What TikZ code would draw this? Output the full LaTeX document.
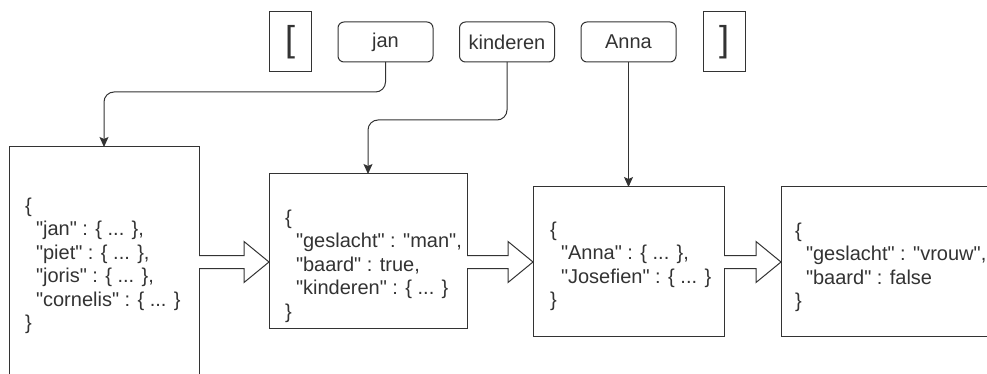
\documentclass[tikz,border=0pt]{standalone}
\usepackage{fontspec}
\setmainfont{Liberation Sans}[Ligatures=TeXOff]
\usetikzlibrary{arrows.meta,calc}
\definecolor{edge}{HTML}{333333}
\definecolor{ink}{HTML}{333333}
\begin{document}
\begin{tikzpicture}[x=1pt,y=-1pt,
  every node/.style={inner sep=0pt,outer sep=0pt,text=ink},
  bracketbox/.style={draw=edge,line width=1pt,minimum width=42pt,minimum height=60pt,
    font=\fontsize{36}{40}\selectfont},
  keybox/.style={draw=edge,line width=1pt,rounded corners=6pt,minimum width=95pt,minimum height=40pt,
    font=\fontsize{20}{23}\selectfont},
  objbox/.style={draw=edge,line width=1pt,fill=white},
  json/.style={align=left,font=\fontsize{20}{23.5}\selectfont,anchor=north west},
  pointer/.style={draw=edge,line width=1pt,rounded corners=10pt,-{Stealth[length=10pt,width=9pt,inset=2pt]}},
  flow/.style={draw=edge,line width=1pt,fill=white}
]
\clip (0,0) rectangle (987,374);

% path of keys at the top
\node[bracketbox] (lb)  at (290,42)   {[};
\node[keybox]     (kjan) at (385.5,42) {jan};
\node[keybox]     (kkin) at (507,42)   {kinderen};
\node[keybox]     (kann) at (628.5,42) {Anna};
\node[bracketbox] (rb)  at (724,42)   {]};

% nested objects
\node[objbox,minimum width=190pt,minimum height=238pt] (b1) at (104,266)   {};
\node[objbox,minimum width=198pt,minimum height=154pt] (b2) at (368,251)   {};
\node[objbox,minimum width=191pt,minimum height=149pt] (b3) at (628.5,261.5) {};
\node[objbox,minimum width=230pt,minimum height=149pt] (b4) at (896,261.5) {};

\node[json] (t1) at (25,198) {\{\\\hspace*{11pt}"jan" : \{ ... \},\\\hspace*{11pt}"piet" : \{ ... \},\\\hspace*{11pt}"joris" : \{ ... \},\\\hspace*{11pt}"cornelis" : \{ ... \}\\\}};
\node[json] (t2) at (285,210) {\{\\\hspace*{11pt}"geslacht" : "man",\\\hspace*{11pt}"baard" : true,\\\hspace*{11pt}"kinderen" : \{ ... \}\\\}};
\node[json] (t3) at (550,222) {\{\\\hspace*{11pt}"Anna" : \{ ... \},\\\hspace*{11pt}"Josefien" : \{ ... \}\\\}};
\node[json] (t4) at (795,223) {\{\\\hspace*{11pt}"geslacht" : "vrouw",\\\hspace*{11pt}"baard" : false\\\}};

% key pointers into the objects
\draw[pointer] (kjan.south) -- ++(0,30) -| (b1.north);
\draw[pointer] (kkin.south) -- ++(0,58) -| (b2.north);
\draw[pointer] (kann.south) -- (b3.north);

% block arrows between the objects
\coordinate (mid) at (0,262);
\foreach \a/\b in {b1/b2,b2/b3,b3/b4}{
  \draw[flow] let \p1=(\a.east |- mid), \p2=(\b.west |- mid) in
    (\x1,\y1-6.5) -- (\x2-25,\y1-6.5) -- (\x2-25,\y1-20.5) -- (\x2,\y1)
    -- (\x2-25,\y1+20.5) -- (\x2-25,\y1+6.5) -- (\x1,\y1+6.5);
}
\end{tikzpicture}
\end{document}
